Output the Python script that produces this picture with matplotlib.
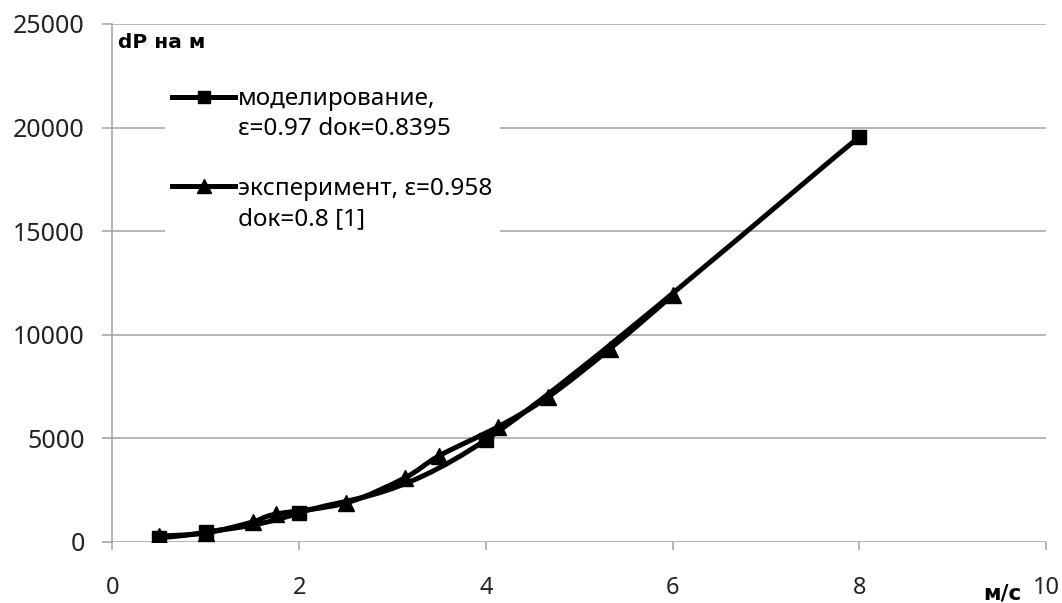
import matplotlib.pyplot as plt
from matplotlib.lines import Line2D
from matplotlib.path import Path
from matplotlib.patches import PathPatch

# моделирование (squares)
model_v = [0.5, 1.0, 2.0, 4.0, 8.0]
model_dp = [180, 460, 1390, 4920, 19550]

# эксперимент [1] (triangles)
exp_v = [0.5, 1.0, 1.5, 1.75, 2.5, 3.13, 3.5, 4.13, 4.67, 5.33, 6.0]
exp_dp = [270, 420, 950, 1330, 1870, 3080, 4150, 5550, 7000, 9320, 11900]

x_ticks = [0, 2, 4, 6, 8, 10]
y_ticks = [0, 5000, 10000, 15000, 20000, 25000]

legend_labels = ['моделирование,', 'ε=0.97 dок=0.8395', ' ',
                 'эксперимент, ε=0.958', 'dок=0.8 [1]']


def smooth_path(xs, ys):
    # spreadsheet-style smoothed line: cubic Bezier through every point
    pts = list(zip(xs, ys))
    verts = [pts[0]]
    codes = [Path.MOVETO]
    n = len(pts)
    for i in range(n - 1):
        p0 = pts[max(i - 1, 0)]
        p1 = pts[i]
        p2 = pts[i + 1]
        p3 = pts[min(i + 2, n - 1)]
        c1 = (p1[0] + (p2[0] - p0[0]) / 6, p1[1] + (p2[1] - p0[1]) / 6)
        c2 = (p2[0] - (p3[0] - p1[0]) / 6, p2[1] - (p3[1] - p1[1]) / 6)
        verts += [c1, c2, p2]
        codes += [Path.CURVE4] * 3
    return Path(verts, codes)


plt.rcParams['font.family'] = ['Noto Sans', 'DejaVu Sans']
grid_color = '#a0a0a0'

fig = plt.figure(figsize=(10.62, 6.03), dpi=100)
ax = fig.add_axes([0.1059, 0.1017, 0.8791, 0.8585])

for xs, ys, mk, size in [(model_v, model_dp, 's', 10), (exp_v, exp_dp, '^', 12)]:
    ax.add_patch(PathPatch(smooth_path(xs, ys), facecolor='none',
                           edgecolor='black', lw=3.6, capstyle='round',
                           joinstyle='round', zorder=3))
    ax.plot(xs, ys, linestyle='none', marker=mk, ms=size, color='black',
            zorder=4)

ax.set_xlim(0, 10)
ax.set_ylim(0, 25000)
ax.set_xticks(x_ticks)
ax.set_yticks(y_ticks)
ax.set_xticklabels([str(t) for t in x_ticks], fontsize=17)
ax.set_yticklabels([str(t) for t in y_ticks], fontsize=18)
ax.yaxis.grid(True, color=grid_color, lw=1.1)
ax.set_axisbelow(True)
for side in ['top', 'right', 'bottom']:
    ax.spines[side].set_visible(False)
ax.spines['left'].set_color(grid_color)
ax.spines['left'].set_linewidth(1.1)
ax.tick_params(axis='y', direction='out', length=7, width=1.1,
               color=grid_color, pad=13, labelcolor='#222222')
ax.tick_params(axis='x', direction='out', length=6, width=1.1,
               color=grid_color, pad=19, labelcolor='#222222')

ax.text(0.006, 0.983, 'dP на м', transform=ax.transAxes, fontsize=14.5,
        family='DejaVu Sans', fontweight='bold', va='top', ha='left')
ax.text(0.974, -0.101, 'м/с', transform=ax.transAxes, fontsize=15.5,
        family='DejaVu Sans', fontweight='bold', va='center', ha='right')

handles = [
    Line2D([], [], color='black', lw=3.6, marker='s', ms=8),
    Line2D([], [], color='none'),
    Line2D([], [], color='none'),
    Line2D([], [], color='black', lw=3.6, marker='^', ms=10),
    Line2D([], [], color='none'),
]
leg = ax.legend(handles, legend_labels, loc='upper left',
                bbox_to_anchor=(0.043, 0.915), fontsize=17.5,
                frameon=True, framealpha=1, facecolor='white',
                edgecolor='none', fancybox=False, handlelength=2.6,
                handletextpad=0.12, labelspacing=0.24, borderpad=0.3)
leg.set_zorder(5)

fig.savefig('out.png', dpi=100)
